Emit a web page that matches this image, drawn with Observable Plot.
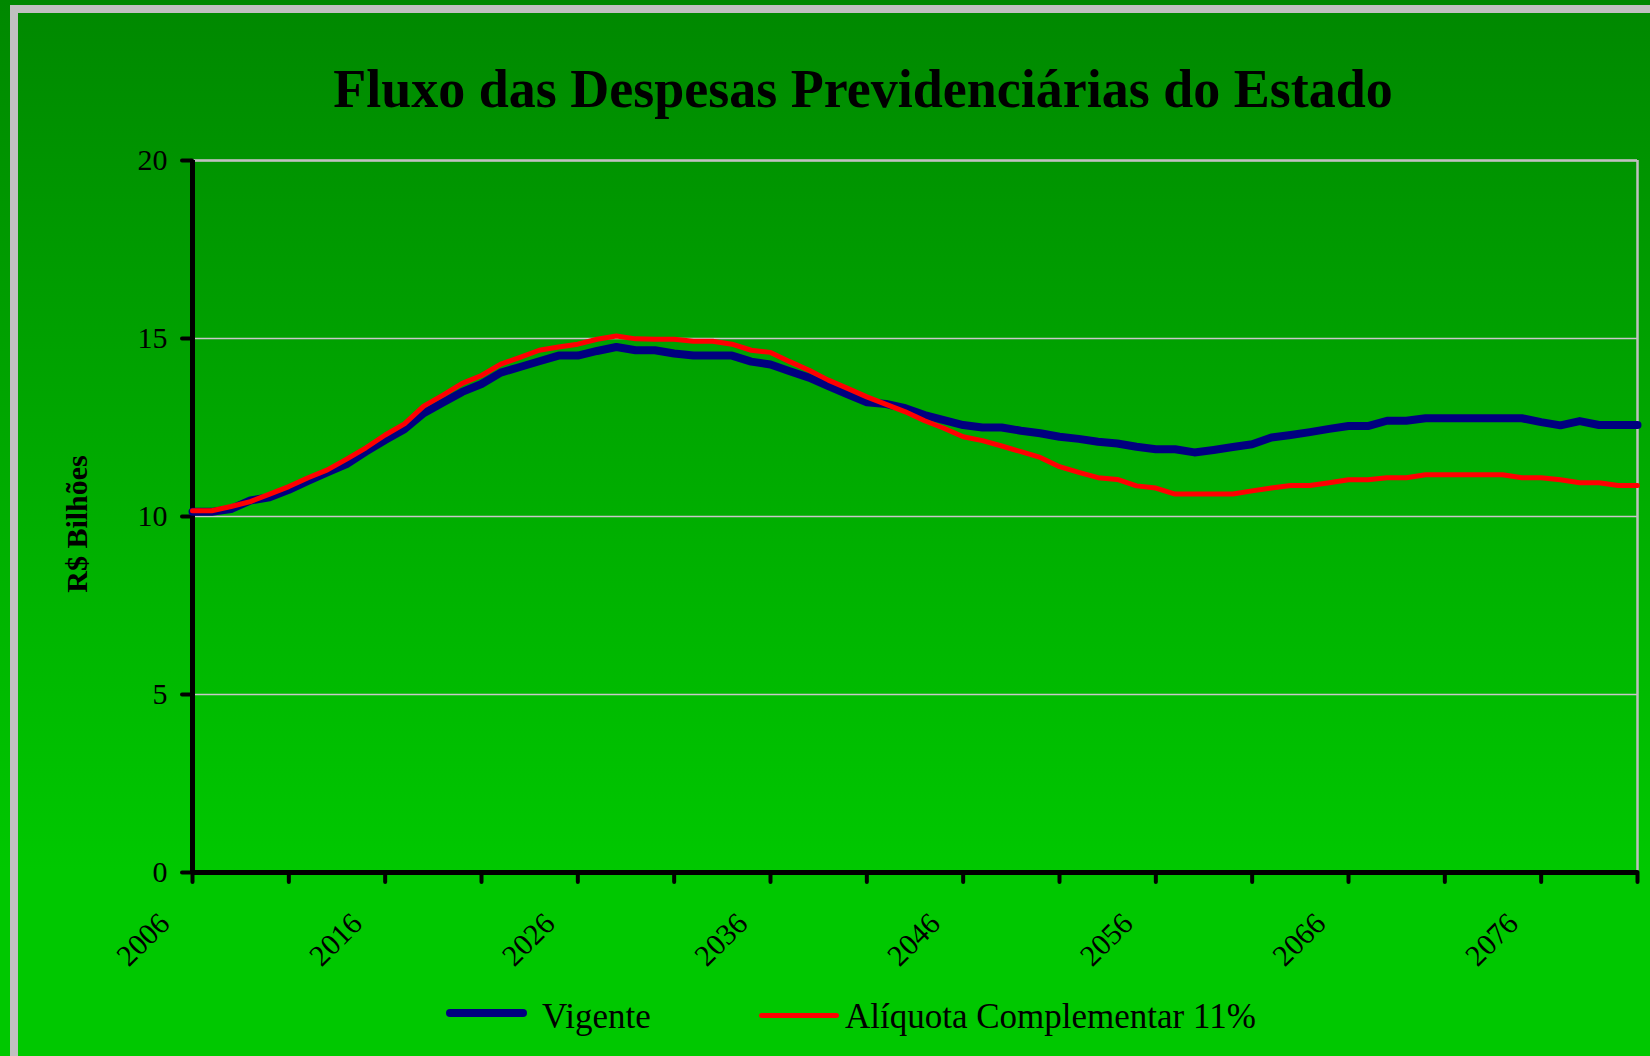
<!DOCTYPE html>
<html>
<head>
<meta charset="utf-8">
<script src="https://cdn.jsdelivr.net/npm/d3@7"></script>
<script src="https://cdn.jsdelivr.net/npm/@observablehq/plot@0.6"></script>
<style>
  html, body { margin: 0; padding: 0; width: 1650px; height: 1056px; overflow: hidden; }
  body {
    position: relative;
    background: linear-gradient(to bottom, #008800 0px, #00c800 870px, #00c800 1056px);
    font-family: "Liberation Serif", "Times New Roman", serif;
    color: #000;
  }
  #frame { position: absolute; left: 10px; top: 5px; width: 1700px; height: 1100px; border: 8px solid #c0c0c0; box-sizing: border-box; }
  #chart { position: absolute; left: 0; top: 0; }
  .title { position: absolute; top: 61.8px; left: 863px; transform: translateX(-50%); font-size: 54px; font-weight: bold; line-height: 1; white-space: nowrap; }
  .ytitle { position: absolute; left: 77px; top: 524px; transform: translate(-50%, -50%) rotate(-90deg); font-size: 30px; font-weight: bold; line-height: 1; white-space: nowrap; }
  .sw { position: absolute; }
  .lt { position: absolute; top: 999px; font-size: 35px; line-height: 1; white-space: nowrap; }
</style>
</head>
<body>
<div id="frame"></div>
<div id="chart"></div>
<div class="title">Fluxo das Despesas Previdenciárias do Estado</div>
<div class="ytitle">R$ Bilhões</div>
<div id="legend"></div>
<script>
const years = [
  2006,2007,2008,2009,2010,2011,2012,2013,2014,2015,
  2016,2017,2018,2019,2020,2021,2022,2023,2024,2025,
  2026,2027,2028,2029,2030,2031,2032,2033,2034,2035,
  2036,2037,2038,2039,2040,2041,2042,2043,2044,2045,
  2046,2047,2048,2049,2050,2051,2052,2053,2054,2055,
  2056,2057,2058,2059,2060,2061,2062,2063,2064,2065,
  2066,2067,2068,2069,2070,2071,2072,2073,2074,2075,
  2076,2077,2078,2079,2080,2081
];
const vigente = [
  10.13,10.13,10.21,10.45,10.54,10.75,11.00,11.24,11.47,11.82,
  12.15,12.45,12.90,13.20,13.50,13.72,14.04,14.20,14.36,14.52,
  14.52,14.65,14.76,14.67,14.67,14.58,14.52,14.52,14.52,14.35,
  14.27,14.08,13.90,13.66,13.43,13.21,13.16,13.04,12.85,12.71,
  12.57,12.50,12.50,12.41,12.34,12.24,12.18,12.10,12.05,11.96,
  11.89,11.89,11.80,11.87,11.95,12.03,12.22,12.29,12.37,12.46,
  12.54,12.54,12.69,12.69,12.76,12.76,12.76,12.76,12.76,12.76,
  12.65,12.56,12.68,12.57,12.57,12.57
];
const aliquota = [
  10.16,10.16,10.28,10.42,10.63,10.84,11.09,11.31,11.61,11.93,
  12.29,12.60,13.10,13.41,13.74,13.96,14.28,14.47,14.67,14.76,
  14.84,14.98,15.07,14.99,14.98,14.98,14.92,14.92,14.84,14.67,
  14.61,14.35,14.11,13.83,13.60,13.36,13.15,12.94,12.69,12.48,
  12.24,12.13,11.98,11.82,11.66,11.40,11.24,11.09,11.04,10.86,
  10.80,10.63,10.63,10.63,10.63,10.72,10.80,10.87,10.87,10.95,
  11.03,11.03,11.09,11.09,11.17,11.17,11.17,11.17,11.17,11.09,
  11.09,11.03,10.95,10.95,10.87,10.87
];
const tickYears = [2006,2011,2016,2021,2026,2031,2036,2041,2046,2051,2056,2061,2066,2071,2076,2081];
const labelYears = [2006,2016,2026,2036,2046,2056,2066,2076];
const yTicks = [0,5,10,15,20];
const seriesNames = ["Vigente", "Alíquota Complementar 11%"];
const seriesColors = ["#000080", "#ff0000"];
const seriesWidths = [8, 5];

const rows = (vals) => years.map((yr, i) => ({year: yr, value: vals[i]}));

const chart = Plot.plot({
  width: 1650,
  height: 1000,
  marginLeft: 192,
  marginRight: 13,
  marginTop: 160,
  marginBottom: 128,
  style: {background: "transparent", color: "black", fontFamily: "Liberation Serif, Times New Roman, serif"},
  x: {domain: [years[0], years[years.length - 1]]},
  y: {domain: [yTicks[0], yTicks[yTicks.length - 1]]},
  marks: [
    Plot.ruleY(yTicks.slice(1), {stroke: "#c8c8c8", strokeWidth: 1.5}),
    Plot.ruleY(yTicks.slice(-1), {stroke: "#c0c0c0", strokeWidth: 2.5}),
    Plot.ruleX(years.slice(-1), {stroke: "#c0c0c0", strokeWidth: 2.5}),
    Plot.ruleX(years.slice(0, 1), {stroke: "black", strokeWidth: 5}),
    Plot.ruleY(yTicks.slice(0, 1), {stroke: "black", strokeWidth: 5}),
    Plot.axisY({ticks: yTicks, tickSize: 10, tickPadding: 15, fontSize: 30, strokeWidth: 4, strokeLinecap: "round", tickFormat: d => `${d}`, label: null}),
    Plot.axisX({ticks: tickYears, tickSize: 10, strokeWidth: 4, strokeLinecap: "round", tickFormat: () => "", label: null}),
    Plot.axisX({ticks: labelYears, tickSize: 0, tickRotate: -45, tickPadding: 46, dx: -28, fontSize: 30, tickFormat: d => `${d}`, label: null}),
    Plot.line(rows(vigente), {x: "year", y: "value", stroke: seriesColors[0], strokeWidth: seriesWidths[0], strokeLinecap: "round", strokeLinejoin: "round"}),
    Plot.line(rows(aliquota), {x: "year", y: "value", stroke: seriesColors[1], strokeWidth: seriesWidths[1], strokeLinecap: "round", strokeLinejoin: "round"})
  ]
});
document.getElementById("chart").appendChild(chart);

// legend
const legend = document.getElementById("legend");
const legendLayout = [
  {swLeft: 446, swTop: 1009, swW: 81, textLeft: 542},
  {swLeft: 759, swTop: 1013, swW: 80, textLeft: 845}
];
seriesNames.forEach((name, i) => {
  const L = legendLayout[i];
  const sw = document.createElement("div");
  sw.className = "sw";
  sw.style.left = L.swLeft + "px";
  sw.style.top = L.swTop + "px";
  sw.style.width = L.swW + "px";
  sw.style.height = seriesWidths[i] + "px";
  sw.style.borderRadius = (seriesWidths[i] / 2) + "px";
  sw.style.background = seriesColors[i];
  legend.appendChild(sw);
  const t = document.createElement("div");
  t.className = "lt";
  t.style.left = L.textLeft + "px";
  t.textContent = name;
  legend.appendChild(t);
});
</script>
</body>
</html>
